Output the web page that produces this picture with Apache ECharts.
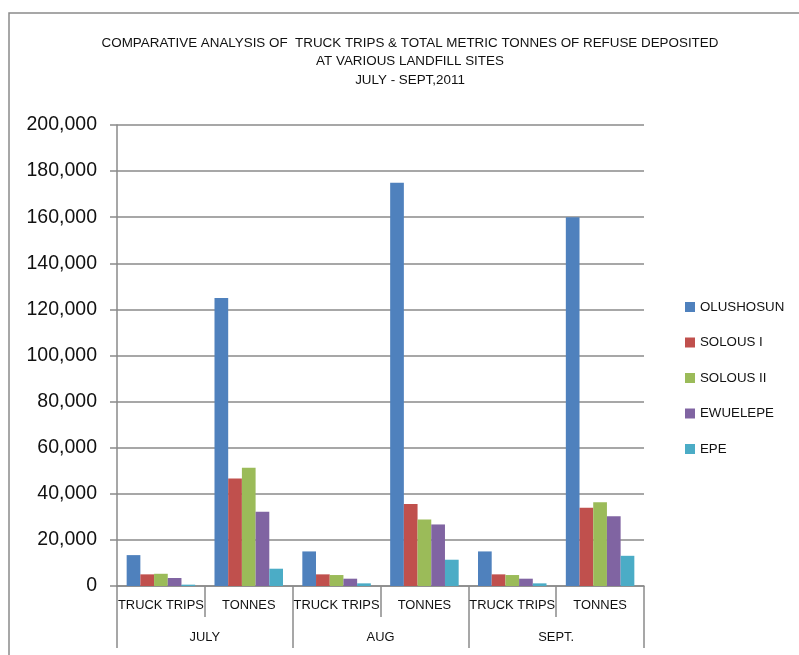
<!DOCTYPE html>
<html>
<head>
<meta charset="utf-8">
<script src="https://cdn.jsdelivr.net/npm/echarts@6/dist/echarts.min.js"></script>
<style>
html,body{margin:0;padding:0;background:#fff;}
#chart{width:799px;height:655px;}
</style>
</head>
<body>
<div id="chart"></div>
<script>
var categories = ['TRUCK TRIPS', 'TONNES', 'TRUCK TRIPS', 'TONNES', 'TRUCK TRIPS', 'TONNES'];
var months = ['JULY', 'AUG', 'SEPT.'];
var seriesNames = ['OLUSHOSUN', 'SOLOUS I', 'SOLOUS II', 'EWUELEPE', 'EPE'];
var olushosun = [13400, 125000, 15000, 175000, 15000, 160000];
var solous1 = [5050, 46600, 5050, 35600, 5050, 33900];
var solous2 = [5300, 51300, 4760, 28800, 4760, 36300];
var ewuelepe = [3460, 32200, 3170, 26700, 3170, 30300];
var epe = [580, 7500, 1150, 11400, 1150, 13100];
var yTicks = { min: 0, max: 200000, interval: 20000 };

var colors = ['#4F81BD', '#C0504D', '#9BBB59', '#8064A2', '#4BACC6'];
var font = "'Liberation Sans', Arial, sans-serif";
var axisGray = '#8a8a8a';

var dataSets = [olushosun, solous1, solous2, ewuelepe, epe];
var series = seriesNames.map(function (name, i) {
  return {
    name: name,
    type: 'bar',
    xAxisIndex: 0,
    data: dataSets[i],
    barGap: '0%',
    barCategoryGap: '22%',
    itemStyle: { color: colors[i] }
  };
});

var chart = echarts.init(document.getElementById('chart'), null, { renderer: 'canvas' });
chart.setOption({
  animation: false,
  color: colors,
  title: {
    text: 'COMPARATIVE ANALYSIS OF  TRUCK TRIPS & TOTAL METRIC TONNES OF REFUSE DEPOSITED\nAT VARIOUS LANDFILL SITES\nJULY - SEPT,2011',
    left: 410,
    top: 34,
    padding: 0,
    textAlign: 'center',
    textStyle: {
      fontFamily: font,
      fontSize: 13.4,
      fontWeight: 'normal',
      color: '#111',
      lineHeight: 18.5
    }
  },
  legend: {
    orient: 'vertical',
    left: 685,
    top: 300,
    padding: 0,
    itemWidth: 10,
    itemHeight: 10,
    itemGap: 21.5,
    icon: 'rect',
    data: seriesNames,
    textStyle: {
      fontFamily: font,
      fontSize: 13.3,
      lineHeight: 14,
      color: '#111'
    }
  },
  graphic: [{
    type: 'rect',
    shape: { x: 9, y: 13, width: 820, height: 700 },
    style: { fill: 'none', stroke: axisGray, lineWidth: 1.5 },
    silent: true
  }],
  grid: { left: 117, right: 155, top: 125, bottom: 69, containLabel: false },
  xAxis: [{
    type: 'category',
    data: categories,
    position: 'bottom',
    axisLine: { show: true, lineStyle: { color: axisGray, width: 1.5 } },
    axisTick: { show: true, length: 31, interval: 0, lineStyle: { color: axisGray, width: 1.5 } },
    axisLabel: {
      interval: 0,
      margin: 13,
      fontFamily: font,
      fontSize: 12.9,
      color: '#111'
    }
  }, {
    type: 'category',
    data: months,
    position: 'bottom',
    axisLine: { show: false },
    axisTick: { show: true, length: 62, interval: 0, lineStyle: { color: axisGray, width: 1.5 } },
    axisLabel: {
      interval: 0,
      margin: 45,
      fontFamily: font,
      fontSize: 12.9,
      color: '#111'
    }
  }],
  yAxis: {
    type: 'value',
    min: yTicks.min,
    max: yTicks.max,
    interval: yTicks.interval,
    axisLine: { show: true, lineStyle: { color: axisGray, width: 1.5 } },
    axisTick: { show: true, length: 7, lineStyle: { color: axisGray, width: 1.5 } },
    splitLine: { show: true, lineStyle: { color: axisGray, width: 1.5 } },
    axisLabel: {
      margin: 20,
      fontFamily: font,
      fontSize: 19.5,
      color: '#111',
      formatter: function (v) { return v.toLocaleString('en-US'); }
    }
  },
  series: series
});
</script>
</body>
</html>
